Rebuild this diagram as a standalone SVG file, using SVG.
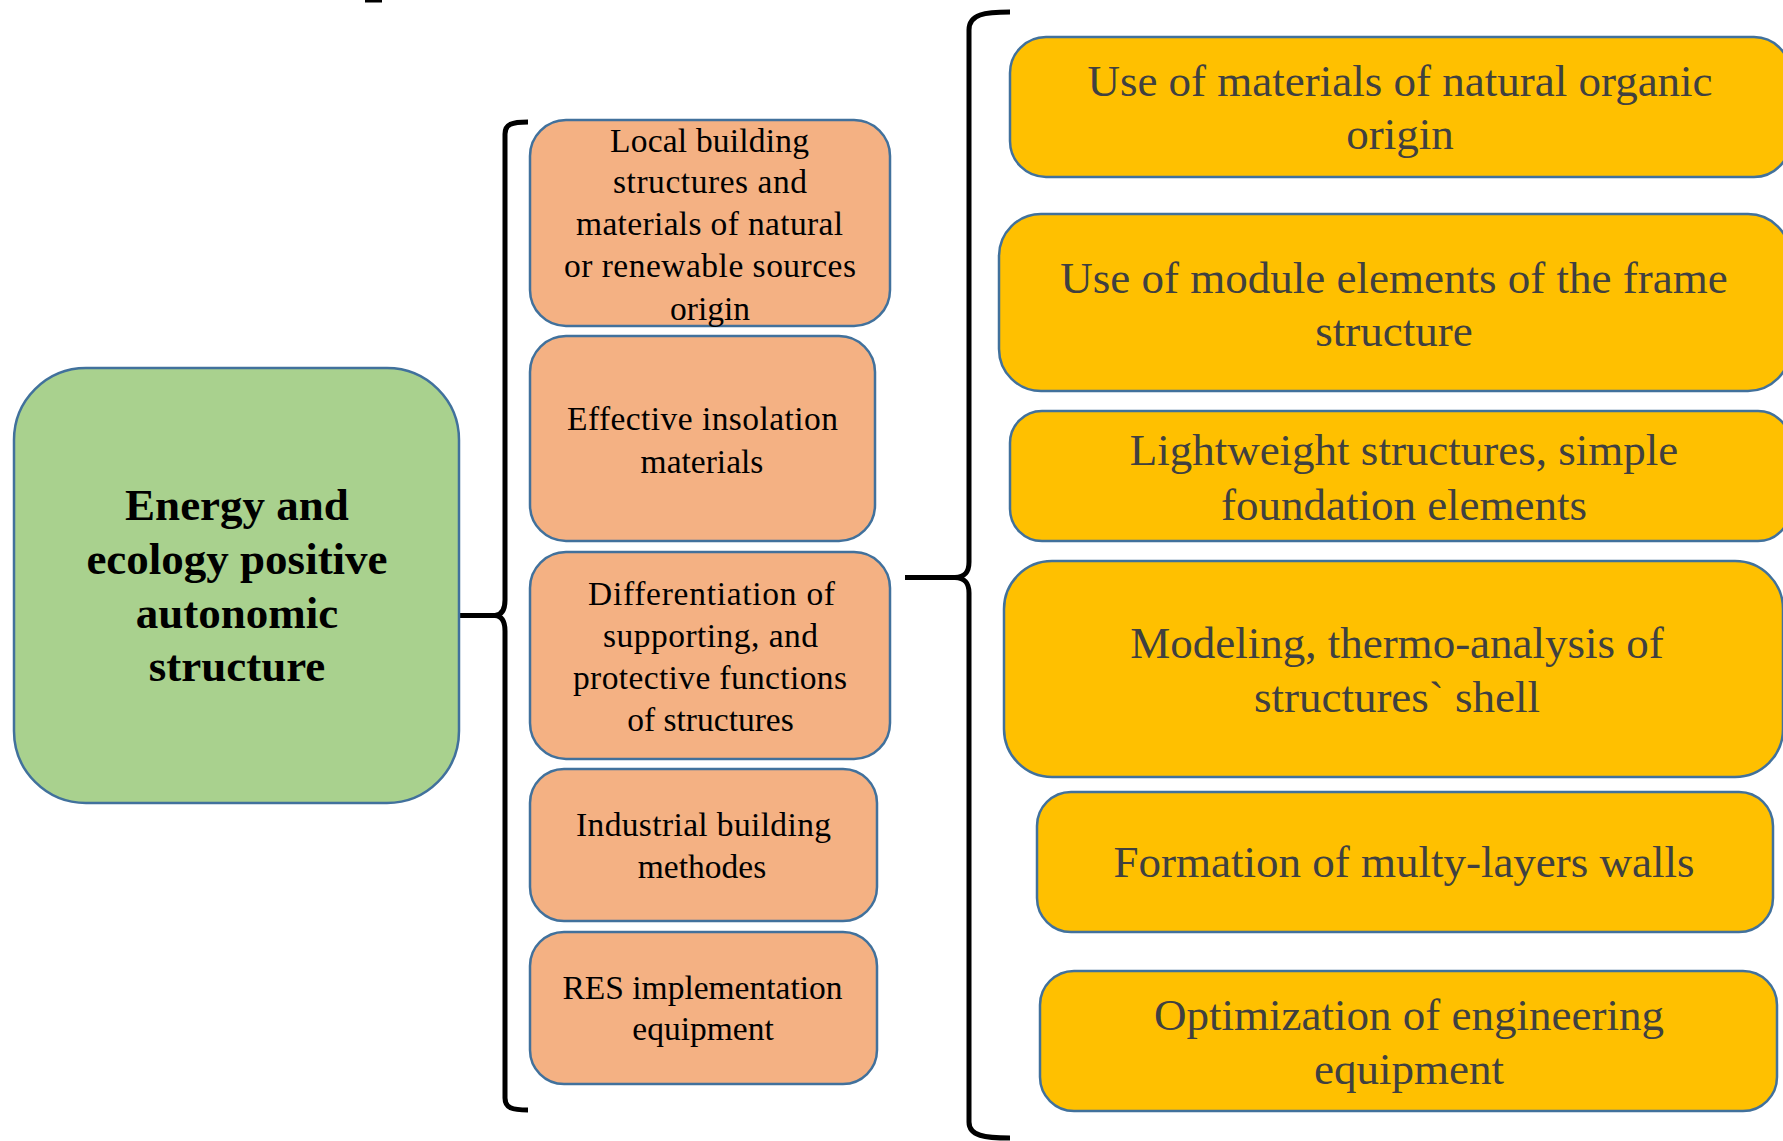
<svg xmlns="http://www.w3.org/2000/svg" width="1783" height="1141" viewBox="0 0 1783 1141">
<style>
.green{fill:#A9D18E;stroke:#41719C;stroke-width:2.5}
.orange{fill:#F4B183;stroke:#41719C;stroke-width:2.5}
.yellow{fill:#FFC000;stroke:#41719C;stroke-width:2.5}
.brace{fill:none;stroke:#000;stroke-width:5;stroke-linecap:butt;stroke-linejoin:round}
.tg{font-family:"Liberation Serif","Times New Roman",serif;font-weight:bold;font-size:45px;fill:#000;text-anchor:middle}
.to{font-family:"Liberation Serif","Times New Roman",serif;font-size:33.5px;fill:#000}
.tc{text-anchor:middle}
.ty{font-family:"Liberation Serif","Times New Roman",serif;font-size:45px;fill:#404040;text-anchor:middle}
</style>
<rect x="365" y="0" width="17" height="2.5" fill="#000"/>
<g id="connectors">
<path class="brace" d="M528,122 C512,122 505,124 505,134 L505,600 C505,610 502,615 495,615.5 C502,616 505,621 505,631 L505,1098 C505,1108 512,1110 528,1110"/>
<path class="brace" d="M458,615.5 L496,615.5"/>
<path class="brace" d="M1010,12 C985,12 969,14 969,30 L969,562 C969,572 965,577 955,577.5 C965,578 969,583 969,593 L969,1122 C969,1136 985,1138 1010,1138"/>
<path class="brace" d="M905,577.5 L957,577.5"/>
</g>
<g id="root">
<rect class="green" x="14" y="368" width="445" height="435" rx="72" ry="72"/>
<text class="tg" x="237" y="520">Energy and</text>
<text class="tg" x="237" y="574">ecology positive</text>
<text class="tg" x="237" y="628">autonomic</text>
<text class="tg" x="237" y="681">structure</text>
</g>
<g id="o1">
<rect class="orange" x="530" y="120" width="360" height="206" rx="36" ry="36"/>
<text class="to" x="610" y="152" textLength="199" lengthAdjust="spacing">Local building</text>
<text class="to" x="613" y="193" textLength="194" lengthAdjust="spacing">structures and</text>
<text class="to" x="576" y="235" textLength="267" lengthAdjust="spacing">materials of natural</text>
<text class="to" x="564" y="277" textLength="292" lengthAdjust="spacing">or renewable sources</text>
<text class="to tc" x="710" y="320">origin</text>
</g>
<g id="o2">
<rect class="orange" x="530" y="336" width="345" height="205" rx="36" ry="36"/>
<text class="to" x="567" y="430" textLength="271" lengthAdjust="spacing">Effective insolation</text>
<text class="to tc" x="702" y="473">materials</text>
</g>
<g id="o3">
<rect class="orange" x="530" y="552" width="360" height="207" rx="36" ry="36"/>
<text class="to" x="588" y="605" textLength="247" lengthAdjust="spacing">Differentiation of</text>
<text class="to" x="603" y="647" textLength="215" lengthAdjust="spacing">supporting, and</text>
<text class="to" x="573" y="689" textLength="274" lengthAdjust="spacing">protective functions</text>
<text class="to tc" x="710.5" y="731">of structures</text>
</g>
<g id="o4">
<rect class="orange" x="530" y="769" width="347" height="152" rx="34" ry="34"/>
<text class="to" x="576" y="836" textLength="255" lengthAdjust="spacing">Industrial building</text>
<text class="to tc" x="702" y="878">methodes</text>
</g>
<g id="o5">
<rect class="orange" x="530" y="932" width="347" height="152" rx="34" ry="34"/>
<text class="to tc" x="702.5" y="999">RES implementation</text>
<text class="to tc" x="703" y="1040">equipment</text>
</g>
<g id="y1">
<rect class="yellow" x="1010" y="37" width="780" height="140" rx="36" ry="36"/>
<text class="ty" x="1400" y="96">Use of materials of natural organic</text>
<text class="ty" x="1400" y="149">origin</text>
</g>
<g id="y2">
<rect class="yellow" x="999" y="214" width="791" height="177" rx="42" ry="42"/>
<text class="ty" x="1394" y="293">Use of module elements of the frame</text>
<text class="ty" x="1394" y="346">structure</text>
</g>
<g id="y3">
<rect class="yellow" x="1010" y="411" width="780" height="130" rx="32" ry="32"/>
<text class="ty" x="1404" y="465">Lightweight structures, simple</text>
<text class="ty" x="1404" y="520">foundation elements</text>
</g>
<g id="y4">
<rect class="yellow" x="1004" y="561" width="779" height="216" rx="48" ry="48"/>
<text class="ty" x="1397" y="658">Modeling, thermo-analysis of</text>
<text class="ty" x="1397" y="712">structures` shell</text>
</g>
<g id="y5">
<rect class="yellow" x="1037" y="792" width="736" height="140" rx="34" ry="34"/>
<text class="ty" x="1404" y="877">Formation of multy-layers walls</text>
</g>
<g id="y6">
<rect class="yellow" x="1040" y="971" width="737" height="140" rx="34" ry="34"/>
<text class="ty" x="1409" y="1030">Optimization of engineering</text>
<text class="ty" x="1409" y="1084">equipment</text>
</g>
</svg>
